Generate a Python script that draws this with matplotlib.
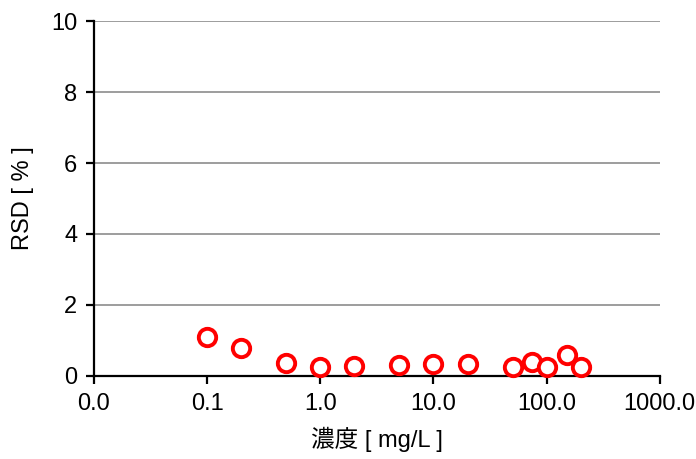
import numpy as np
import matplotlib
matplotlib.use('Agg')
import matplotlib.pyplot as plt
from matplotlib.ticker import FixedLocator, NullLocator

plt.rcParams['font.family'] = ['Liberation Sans', 'Noto Sans CJK JP', 'DejaVu Sans']

conc = [0.1, 0.2, 0.5, 1, 2, 5, 10, 20, 50, 75, 100, 150, 200]
rsd = [1.10, 0.79, 0.37, 0.25, 0.28, 0.31, 0.34, 0.34, 0.25, 0.39, 0.25, 0.59, 0.25]
xticks = [0.01, 0.1, 1, 10, 100, 1000]
xlabels = ['0.0', '0.1', '1.0', '10.0', '100.0', '1000.0']

fig = plt.figure(figsize=(6.96, 4.59), dpi=100)
ax = fig.add_axes([0.135, 0.181, 0.813, 0.773])

ax.plot(conc, rsd, 'o', ms=12.5, mfc='white', mec='#ff0000', mew=2.8, zorder=3, clip_on=False)

ax.set_xscale('log')
ax.set_xlim(0.01, 1000)
ax.set_ylim(0, 10)
ax.xaxis.set_major_locator(FixedLocator(xticks))
ax.xaxis.set_minor_locator(NullLocator())
ax.set_xticklabels(xlabels)
ax.set_yticks([0, 2, 4, 6, 8, 10])
ax.yaxis.grid(True, color='#8c8c8c', lw=1.2)
ax.set_axisbelow(True)

for s in ['top', 'right']:
    ax.spines[s].set_visible(False)
for s in ['left', 'bottom']:
    ax.spines[s].set_linewidth(1.6)
ax.tick_params(direction='out', length=6, width=1.6, labelsize=17, pad=6)

ax.set_xlabel('濃度 [ mg/L ]', fontsize=17, labelpad=9)
ax.set_ylabel('RSD [ % ]', fontsize=17, labelpad=12)

plt.savefig('out.png', dpi=100)
